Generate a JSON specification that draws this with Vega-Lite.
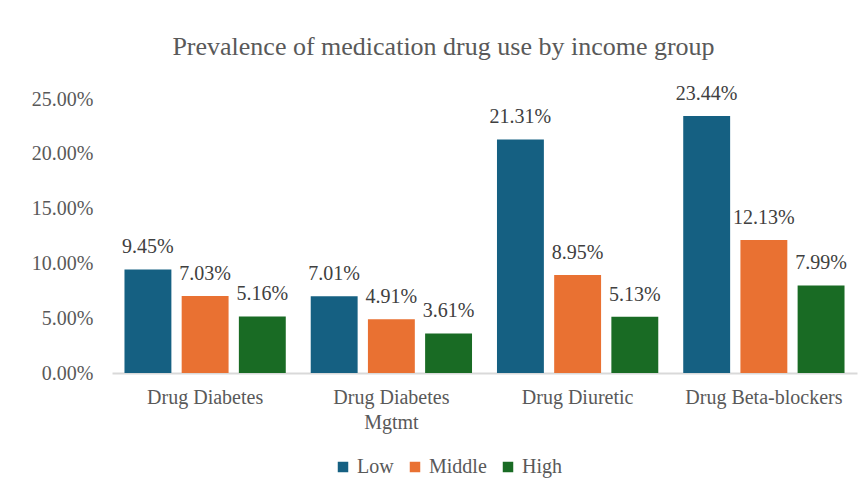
{
  "$schema": "https://vega.github.io/schema/vega-lite/v6.json",
  "autosize": {"type": "none"},
  "width": 745,
  "height": 274,
  "padding": {"left": 112, "top": 99, "right": 8, "bottom": 124},
  "background": "white",
  "title": {
    "text": "Prevalence of medication drug use by income group",
    "font": "Liberation Serif",
    "fontSize": 26,
    "fontWeight": "normal",
    "color": "#595959",
    "anchor": "middle",
    "frame": "group",
    "dx": -41,
    "offset": 24
  },
  "data": {
    "values": [
      {"drug": "Drug Diabetes", "income": "Low", "value": 0.0945},
      {"drug": "Drug Diabetes", "income": "Middle", "value": 0.0703},
      {"drug": "Drug Diabetes", "income": "High", "value": 0.0516},
      {"drug": "Drug Diabetes Mgtmt", "income": "Low", "value": 0.0701},
      {"drug": "Drug Diabetes Mgtmt", "income": "Middle", "value": 0.0491},
      {"drug": "Drug Diabetes Mgtmt", "income": "High", "value": 0.0361},
      {"drug": "Drug Diuretic", "income": "Low", "value": 0.2131},
      {"drug": "Drug Diuretic", "income": "Middle", "value": 0.0895},
      {"drug": "Drug Diuretic", "income": "High", "value": 0.0513},
      {"drug": "Drug Beta-blockers", "income": "Low", "value": 0.2344},
      {"drug": "Drug Beta-blockers", "income": "Middle", "value": 0.1213},
      {"drug": "Drug Beta-blockers", "income": "High", "value": 0.0799}
    ]
  },
  "encoding": {
    "x": {
      "field": "drug",
      "type": "nominal",
      "sort": ["Drug Diabetes", "Drug Diabetes Mgtmt", "Drug Diuretic", "Drug Beta-blockers"],
      "scale": {"paddingInner": 0.134, "paddingOuter": 0.067},
      "axis": {
        "title": null,
        "labelAngle": 0,
        "labelFont": "Liberation Serif",
        "labelFontSize": 20,
        "labelColor": "#595959",
        "labelPadding": 14,
        "labelLineHeight": 25,
        "labelExpr": "datum.label == 'Drug Diabetes Mgtmt' ? ['Drug Diabetes', 'Mgtmt'] : datum.label",
        "ticks": false,
        "domainColor": "#D9D9D9",
        "domainWidth": 2
      }
    },
    "xOffset": {
      "field": "income",
      "type": "nominal",
      "sort": ["Low", "Middle", "High"],
      "scale": {"paddingInner": 0.18, "paddingOuter": 0}
    },
    "y": {
      "field": "value",
      "type": "quantitative",
      "scale": {"domain": [0, 0.25], "nice": false},
      "axis": {
        "title": null,
        "format": ".2%",
        "values": [0, 0.05, 0.1, 0.15, 0.2, 0.25],
        "labelFont": "Liberation Serif",
        "labelFontSize": 20,
        "labelColor": "#595959",
        "labelPadding": 19,
        "ticks": false,
        "domain": false,
        "grid": false
      }
    }
  },
  "layer": [
    {
      "mark": {"type": "bar"},
      "encoding": {
        "color": {
          "field": "income",
          "type": "nominal",
          "sort": ["Low", "Middle", "High"],
          "scale": {"domain": ["Low", "Middle", "High"], "range": ["#156082", "#E97132", "#196B24"]},
          "legend": {
            "title": null,
            "orient": "none",
            "direction": "horizontal",
            "legendX": 221,
            "legendY": 358,
            "symbolType": "square",
            "symbolSize": 110,
            "symbolStrokeWidth": 0,
            "labelFont": "Liberation Serif",
            "labelFontSize": 20,
            "labelColor": "#595959",
            "labelOffset": 4,
            "columnPadding": 11
          }
        }
      }
    },
    {
      "mark": {
        "type": "text",
        "font": "Liberation Serif",
        "fontSize": 20,
        "color": "#404040",
        "baseline": "alphabetic",
        "dy": -16
      },
      "encoding": {
        "text": {"field": "value", "type": "quantitative", "format": ".2%"}
      }
    }
  ],
  "config": {
    "view": {"stroke": null}
  }
}
